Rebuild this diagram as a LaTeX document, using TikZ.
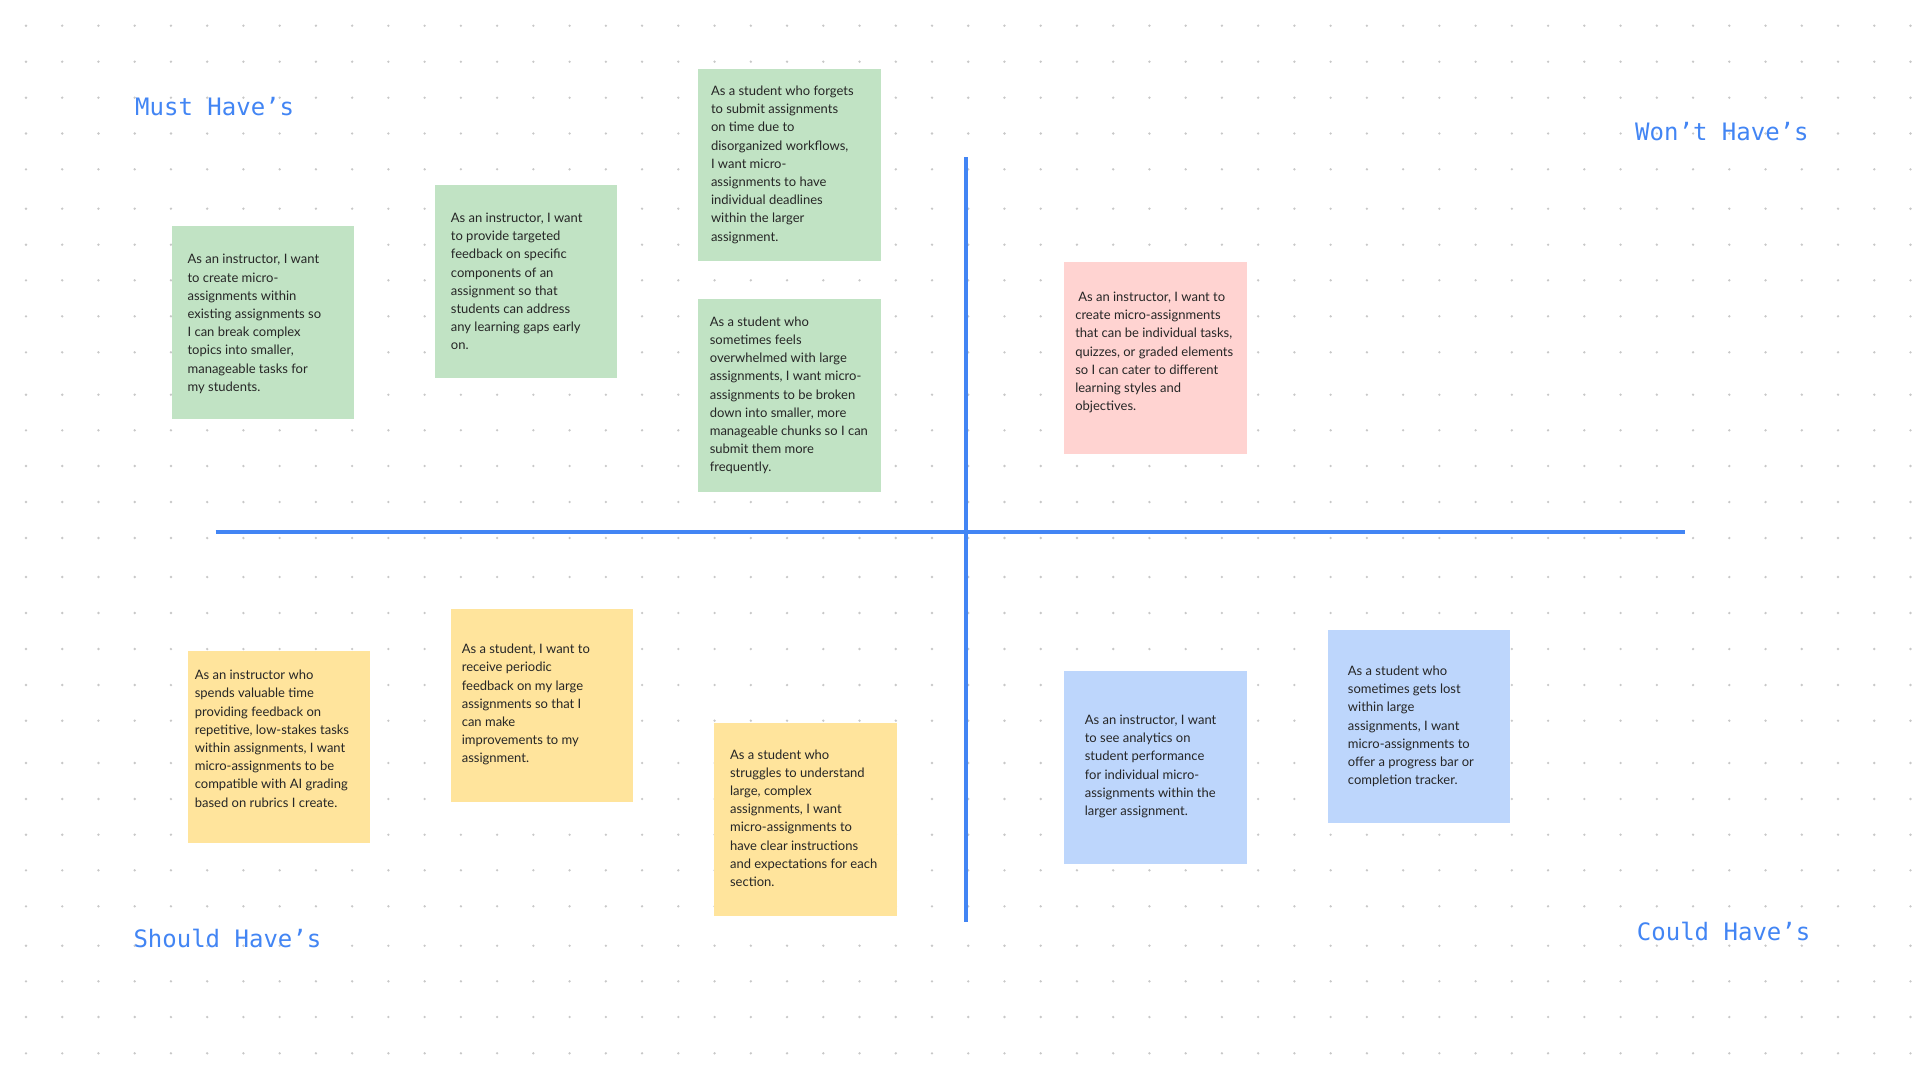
\documentclass[tikz,border=0pt]{standalone}
\usepackage{fontspec}
\setmainfont{Lato}
\newfontfamily\titlefont{DejaVu Sans Mono}
\usetikzlibrary{calc}
\definecolor{gblue}{RGB}{66,133,244}
\definecolor{dotc}{RGB}{200,200,200}
\definecolor{ngreen}{RGB}{193,227,196}
\definecolor{npink}{RGB}{255,211,209}
\definecolor{nyellow}{RGB}{255,228,156}
\definecolor{nblue}{RGB}{189,214,252}
\definecolor{ntxt}{RGB}{38,38,38}
\tikzset{
  note/.style={anchor=north west, inner sep=0pt, minimum width=182.5pt, minimum height=192.5pt},
  ntext/.style={anchor=west, align=left, inner sep=0pt, text=ntxt, font=\fontsize{13}{18.2}\selectfont},
  title/.style={anchor=base west, inner sep=0pt, text=gblue, font=\titlefont\fontsize{24}{28}\selectfont},
  axis/.style={draw=gblue, line width=4pt}
}
\begin{document}
\begin{tikzpicture}[x=1pt,y=-1pt]
\useasboundingbox (0,0) rectangle (1920,1080);
\fill[white] (0,0) rectangle (1920,1080);
% dot grid
\foreach \yy in {25.7,61.7,97.7,133.5,169.3,208.7,244.7,280.3,316.3,352.3,394.7,430.3,466,502,538,577,613,649,685,720.7,763,799,834.7,870.3,906.3,945.7,981.3,1017,1053.3}{
  \foreach \i in {0,...,52}{
    \fill[dotc] (26+36.24*\i,\yy) circle[radius=1.3pt];
  }
}
% titles
\node[title] (must) at (135,115) {Must Have’s};
\node[title] (wont) at (1635,140) {Won’t Have’s};
\node[title] (should) at (133.3,947.7) {Should Have’s};
\node[title] (could) at (1636.7,940) {Could Have’s};
% axes
\coordinate (vt) at (966,157.3);
\coordinate (vb) at (966,922);
\coordinate (hl) at (215.5,531.5);
\coordinate (hr) at (1685,531.5);
\draw[axis] (vt) -- (vb);
\draw[axis] (hl) -- (hr);
% notes
\node[note, fill=ngreen] (n1) at (171.4,226) {};
\node[ntext] (t1) at ([xshift=16pt,yshift=-1.5pt]n1.west) {As an instructor, I want\\to create micro-\\assignments within\\existing assignments so\\I can break complex\\topics into smaller,\\manageable tasks for\\my students.};
\node[note, fill=ngreen] (n2) at (434.7,185) {};
\node[ntext] (t2) at ([xshift=16pt]n2.west) {As an instructor, I want\\to provide targeted\\feedback on specific\\components of an\\assignment so that\\students can address\\any learning gaps early\\on.};
\node[note, fill=ngreen] (n3) at (698,68.3) {};
\node[ntext] (t3) at ([xshift=12.8pt]n3.west) {As a student who forgets\\to submit assignments\\on time due to\\disorganized workflows,\\I want micro-\\assignments to have\\individual deadlines\\within the larger\\assignment.};
\node[note, fill=ngreen] (n4) at (698,299) {};
\node[ntext] (t4) at ([xshift=11.6pt]n4.west) {As a student who\\sometimes feels\\overwhelmed with large\\assignments, I want micro-\\assignments to be broken\\down into smaller, more\\manageable chunks so I can\\submit them more\\frequently.};
\node[note, fill=npink] (n5) at (1064.1,261.3) {};
\node[ntext] (t5) at ([xshift=11pt,yshift=5.3pt]n5.west) {\hspace*{3pt}As an instructor, I want to\\create micro-assignments\\that can be individual tasks,\\quizzes, or graded elements\\so I can cater to different\\learning styles and\\objectives.};
\node[note, fill=nyellow] (n6) at (187.3,650.7) {};
\node[ntext] (t6) at ([xshift=7.3pt,yshift=8.5pt]n6.west) {As an instructor who\\spends valuable time\\providing feedback on\\repetitive, low-stakes tasks\\within assignments, I want\\micro-assignments to be\\compatible with AI grading\\based on rubrics I create.};
\node[note, fill=nyellow] (n7) at (450.6,609) {};
\node[ntext] (t7) at ([xshift=11pt,yshift=0.7pt]n7.west) {As a student, I want to\\receive periodic\\feedback on my large\\assignments so that I\\can make\\improvements to my\\assignment.};
\node[note, fill=nyellow] (n8) at (713.9,723) {};
\node[ntext] (t8) at ([xshift=16pt,yshift=1.5pt]n8.west) {As a student who\\struggles to understand\\large, complex\\assignments, I want\\micro-assignments to\\have clear instructions\\and expectations for each\\section.};
\node[note, fill=nblue] (n9) at (1064.1,671) {};
\node[ntext] (t9) at ([xshift=20.5pt,yshift=1pt]n9.west) {As an instructor, I want\\to see analytics on\\student performance\\for individual micro-\\assignments within the\\larger assignment.};
\node[note, fill=nblue] (n10) at (1327.4,630) {};
\node[ntext] (t10) at ([xshift=20.3pt]n10.west) {As a student who\\sometimes gets lost\\within large\\assignments, I want\\micro-assignments to\\offer a progress bar or\\completion tracker.};
\end{tikzpicture}
\end{document}
